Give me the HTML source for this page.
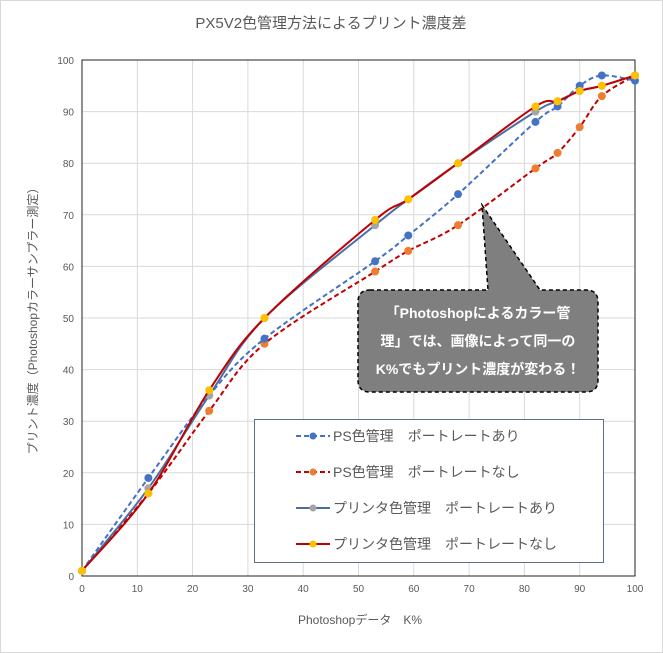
<!DOCTYPE html>
<html><head><meta charset="utf-8"><style>
body{margin:0;background:#fff;}
svg{display:block;font-family:"Liberation Sans","Noto Sans CJK JP",sans-serif;}
</style></head><body>
<svg id="s" width="663" height="653" viewBox="0 0 663 653">
<rect x="0.5" y="0.5" width="662" height="652" fill="#fff" stroke="#d9d9d9"/>
<text x="331" y="28" text-anchor="middle" font-size="15" fill="#595959">PX5V2色管理方法によるプリント濃度差</text>
<g id="grid"></g>
<g id="series"></g>
<text x="360" y="624" text-anchor="middle" font-size="12" fill="#595959">Photoshopデータ　K%</text>
<text transform="translate(37,318) rotate(-90)" text-anchor="middle" font-size="12" fill="#595959">プリント濃度（Photoshopカラーサンプラー測定）</text>
<path d="M370,290 L488,290 L482,205 L540,290 L586,290 Q598,290 598,302 L598,380 Q598,392 586,392 L370,392 Q358,392 358,380 L358,302 Q358,290 370,290 Z" fill="#7f7f7f" stroke="#000" stroke-width="1.5" stroke-dasharray="4,3"/>
<g font-size="14" font-weight="bold" fill="#fff" text-anchor="middle">
<text x="478" y="318">「Photoshopによるカラー管</text>
<text x="478" y="346">理」では、画像によって同一の</text>
<text x="478" y="374">K%でもプリント濃度が変わる！</text>
</g>
<rect x="254.5" y="419.5" width="349" height="143" fill="#fff" stroke="#5a6f8a"/>
<g font-size="14" fill="#595959">
<line x1="296" y1="436" x2="330" y2="436" stroke="#4472c4" stroke-width="2" stroke-dasharray="5,3"/><circle cx="313" cy="436" r="3.5" fill="#4472c4"/>
<text x="333" y="441">PS色管理　ポートレートあり</text>
<line x1="296" y1="472" x2="330" y2="472" stroke="#c00000" stroke-width="2" stroke-dasharray="5,3"/><circle cx="313" cy="472" r="3.5" fill="#ed7d31"/>
<text x="333" y="477">PS色管理　ポートレートなし</text>
<line x1="296" y1="508" x2="330" y2="508" stroke="#4a6fa5" stroke-width="2"/><circle cx="313" cy="508" r="3.5" fill="#a5a5a5"/>
<text x="333" y="513">プリンタ色管理　ポートレートあり</text>
<line x1="296" y1="544" x2="330" y2="544" stroke="#c00000" stroke-width="2"/><circle cx="313" cy="544" r="3.5" fill="#ffc000"/>
<text x="333" y="549">プリンタ色管理　ポートレートなし</text>
</g>
</svg>
<script>
var NS="http://www.w3.org/2000/svg";
function X(v){return 82+v*5.53;} function Y(v){return 576-v*5.16;}
function el(t,a,p){var e=document.createElementNS(NS,t);for(var k in a)e.setAttribute(k,a[k]);p.appendChild(e);return e;}
var g=document.getElementById('grid');
for(var i=0;i<=10;i++){
 el('line',{x1:X(i*10),x2:X(i*10),y1:Y(0),y2:Y(100),stroke:'#d9d9d9'},g);
 el('line',{x1:X(0),x2:X(100),y1:Y(i*10),y2:Y(i*10),stroke:'#d9d9d9'},g);
 var t=el('text',{x:X(i*10),y:592,'text-anchor':'middle','font-size':'10',fill:'#595959'},g);t.textContent=i*10;
 var t2=el('text',{x:74,y:Y(i*10)+4,'text-anchor':'end','font-size':'10',fill:'#595959'},g);t2.textContent=i*10;
}
el('rect',{x:X(0),y:Y(100),width:X(100)-X(0),height:Y(0)-Y(100),fill:'none',stroke:'#222','stroke-width':1},g);
var xs=[0,12,23,33,53,59,68,82,86,90,94,100];
var S=[
 {y:[1,16,32,45,59,63,68,79,82,87,93,97],line:'#c00000',dot:'#ed7d31',dash:'5,3'},
 {y:[1,19,35,46,61,66,74,88,91,95,97,96],line:'#4472c4',dot:'#4472c4',dash:'5,3'},
 {y:[1,17,35,50,68,73,80,90,92,94,95,97],line:'#4a6fa5',dot:'#a5a5a5',dash:''},
 {y:[1,16,36,50,69,73,80,91,92,94,95,97],line:'#c00000',dot:'#ffc000',dash:''}
];
var sg=document.getElementById('series');
S.forEach(function(s){
 var P=xs.map(function(x,i){return [X(x),Y(s.y[i])];});
 var d='M'+P[0][0]+','+P[0][1];
 for(var i=0;i<P.length-1;i++){
  var p0=P[Math.max(0,i-1)],p1=P[i],p2=P[i+1],p3=P[Math.min(P.length-1,i+2)];
  var t=1/6;
  d+=' C'+(p1[0]+(p2[0]-p0[0])*t)+','+(p1[1]+(p2[1]-p0[1])*t)+' '+(p2[0]-(p3[0]-p1[0])*t)+','+(p2[1]-(p3[1]-p1[1])*t)+' '+p2[0]+','+p2[1];
 }
 var a={d:d,fill:'none',stroke:s.line,'stroke-width':2};
 if(s.dash)a['stroke-dasharray']=s.dash;
 el('path',a,sg);
 P.forEach(function(p){el('circle',{cx:p[0],cy:p[1],r:4,fill:s.dot},sg);});
});
</script>
</body></html>
